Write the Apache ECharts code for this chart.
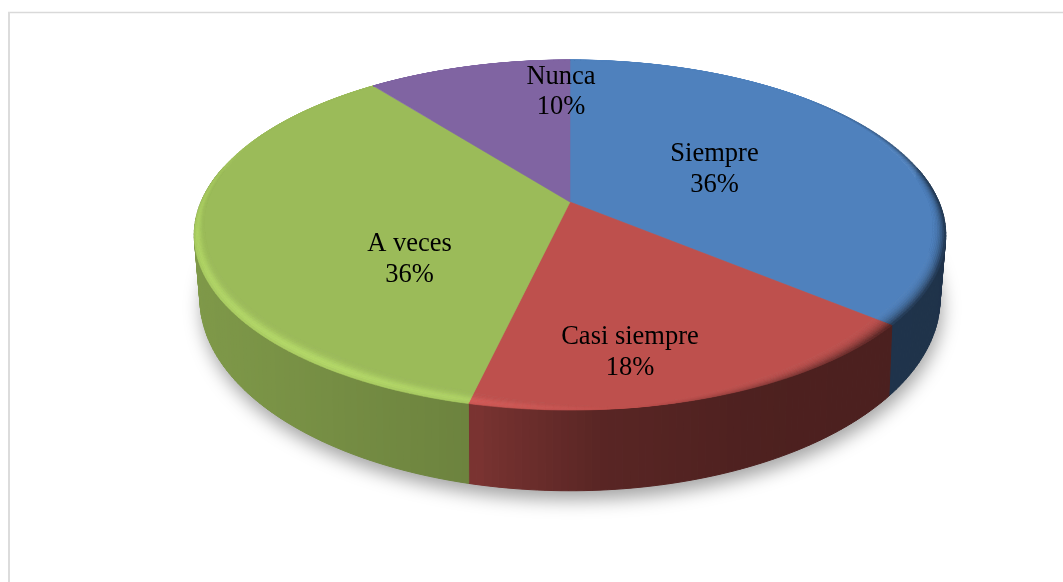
<!DOCTYPE html>
<html>
<head>
<meta charset="utf-8">
<style>html,body{margin:0;padding:0;background:#fff}#c{width:1063px;height:582px}</style>
<script src="https://cdn.jsdelivr.net/npm/echarts@6/dist/echarts.min.js"></script>
</head>
<body>
<div id="c"></div>
<script>
const categories = ['Siempre', 'Casi siempre', 'A veces', 'Nunca'];
const values = [36.1, 17.51, 35.9, 10.49];
const sliceColors = ['#4f81bd', '#be504d', '#9bbb59', '#8064a2'];
const labelCentres = [[714.5, 169.5], [630, 352.5], [409.5, 259.5], [561, 92]];

/* Perspective disc: unit-circle point (u, v) to screen, for top and bottom faces */
const TOP = {cx: 570, cy: 202, a: 369, b: 168.8, k: 0.1886};
const BOT = {cx: 570, cy: 260, a: 362.6, b: 184.6, k: 0.2};
const project = (p, u, v) => {
  const w = 1 - p.k * v;
  return [p.cx + p.a * u / w, p.cy + p.b * v / w];
};
const rad = d => d * Math.PI / 180;
const unit = d => [Math.sin(rad(d)), -Math.cos(rad(d))];
const total = values.reduce((s, x) => s + x, 0);
const cuts = [0];
values.forEach(x => cuts.push(cuts[cuts.length - 1] + x / total * 360));

const hexRgb = h => [1, 3, 5].map(i => parseInt(h.substr(i, 2), 16));
const shade = (h, f) => {
  const c = hexRgb(h).map(x => Math.max(0, Math.min(255, Math.round(x * f))));
  return 'rgb(' + c.join(',') + ')';
};
const ramp = (x, stops) => {
  if (x <= stops[0][0]) return stops[0][1];
  for (let i = 1; i < stops.length; i++) {
    if (x <= stops[i][0]) {
      const t = (x - stops[i - 1][0]) / (stops[i][0] - stops[i - 1][0]);
      return stops[i - 1][1] + t * (stops[i][1] - stops[i - 1][1]);
    }
  }
  return stops[stops.length - 1][1];
};
const wallStops = [[195, .82], [350, .75], [470, .70], [472, .64], [600, .47], [750, .41], [950, .39]];
const rimMode = d => ramp(d, [[45, 0], [85, -1], [130, -1], [172, 0], [195, .8], [215, 1], [260, .8], [295, 0]]);
const rimWidth = d => {
  const v = unit(d)[1];
  const s = Math.abs(rimMode(d));
  return 0.004 + 0.024 * s + 0.032 * Math.max(0, v) * s;
};
const STEP = 1, RINGS = 8;
const segs = (a, b) => {
  const n = Math.max(1, Math.ceil((b - a) / STEP));
  return Array.from({length: n + 1}, (_, i) => a + (b - a) * i / n);
};

function renderWall(params) {
  const i = params.dataIndex, col = sliceColors[i], kids = [];
  const ds = segs(cuts[i], cuts[i + 1]);
  for (let j = 0; j < ds.length - 1; j++) {
    const [u0, v0] = unit(ds[j]), [u1, v1] = unit(ds[j + 1]);
    if (Math.max(v0, v1) < -0.2) continue;
    const pts = [project(TOP, u0, v0), project(TOP, u1, v1), project(BOT, u1, v1), project(BOT, u0, v0)];
    const x = (pts[2][0] + pts[3][0]) / 2;
    let f = ramp(x, wallStops);
    if (i === 1 && x < 480) f = .64;
    if (i === 2 && x > 440) f = Math.min(f, .71);
    const fill = shade(col, f);
    kids.push({type: 'polygon', shape: {points: pts}, style: {fill, stroke: fill, lineWidth: 1}, silent: true});
  }
  return {type: 'group', children: kids};
}

function renderTop(params) {
  const i = params.dataIndex, col = sliceColors[i], kids = [];
  const ds = segs(cuts[i], cuts[i + 1]);
  const inner = [[TOP.cx, TOP.cy]];
  ds.forEach(d => {
    const [u, v] = unit(d), r = 1 - rimWidth(d);
    inner.push(project(TOP, u * r, v * r));
  });
  kids.push({type: 'polygon', shape: {points: inner}, style: {fill: col, stroke: col, lineWidth: .6}, silent: true});
  for (let j = 0; j < ds.length - 1; j++) {
    const d0 = ds[j], d1 = ds[j + 1], mid = (d0 + d1) / 2, s = rimMode(mid);
    const [u0, v0] = unit(d0), [u1, v1] = unit(d1);
    const w0 = rimWidth(d0), w1 = rimWidth(d1);
    for (let q = 0; q < RINGS; q++) {
      const t0 = q / RINGS, t1 = (q + 1) / RINGS, t = (t0 + t1) / 2;
      const a = 1 - w0 * (1 - t0), b = 1 - w1 * (1 - t0), c = 1 - w1 * (1 - t1), e = 1 - w0 * (1 - t1);
      let f = 1;
      if (s > 0) {
        f = 1 + s * .16 * Math.exp(-Math.pow((t - .72) / .36, 2));
      } else if (s < 0) {
        f = 1 + s * .6 * t * t;
      }
      const fill = shade(col, f);
      kids.push({
        type: 'polygon',
        shape: {points: [project(TOP, u0 * a, v0 * a), project(TOP, u1 * b, v1 * b), project(TOP, u1 * c, v1 * c), project(TOP, u0 * e, v0 * e)]},
        style: {fill, stroke: fill, lineWidth: .6},
        silent: true
      });
    }
  }
  return {type: 'group', children: kids};
}

function renderShadow(params) {
  if (params.dataIndex !== 0) return {type: 'group', children: []};
  const pts = segs(0, 360).map(d => {
    const [u, v] = unit(d);
    return project(BOT, u, v);
  });
  return {
    type: 'polygon', shape: {points: pts}, silent: true,
    style: {fill: '#999', shadowColor: 'rgba(0,0,0,.36)', shadowBlur: 18, shadowOffsetY: 9, shadowOffsetX: 2}
  };
}

function renderLabel(params) {
  const i = params.dataIndex, [x, y] = labelCentres[i];
  return {
    type: 'text', silent: true,
    style: {
      x, y, align: 'center', verticalAlign: 'middle',
      text: categories[i] + '\n' + Math.round(values[i] / total * 100) + '%',
      font: '26.5px "Liberation Serif"', lineHeight: 30.5, fill: '#000'
    }
  };
}

const base = {type: 'custom', coordinateSystem: 'none', data: values, animation: false, silent: true};
const chart = echarts.init(document.getElementById('c'), null, {renderer: 'canvas'});
chart.setOption({
  animation: false,
  backgroundColor: '#fff',
  graphic: [
    {type: 'line', silent: true, z: 0, shape: {x1: 8, y1: 12.5, x2: 1063, y2: 12.5}, style: {stroke: '#d9d9d9', lineWidth: 1.4}},
    {type: 'line', silent: true, z: 0, shape: {x1: 9, y1: 12, x2: 9, y2: 582}, style: {stroke: '#dcdcdc', lineWidth: 2}}
  ],
  series: [
    Object.assign({}, base, {z: 1, renderItem: renderShadow}),
    Object.assign({}, base, {z: 2, renderItem: renderWall}),
    Object.assign({}, base, {z: 3, renderItem: renderTop}),
    Object.assign({}, base, {z: 4, renderItem: renderLabel})
  ]
});
</script>
</body>
</html>
